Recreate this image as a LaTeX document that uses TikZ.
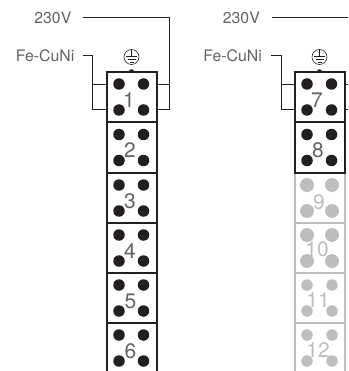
\documentclass[tikz,border=0pt]{standalone}
\usepackage{fontspec}
\setmainfont{TeX Gyre Heros}
\definecolor{ink}{HTML}{231F20}
\definecolor{txt}{HTML}{626366}
\definecolor{pale}{HTML}{BCBEC0}
\tikzset{
  cell/.style={draw=#1,line width=2pt,minimum width=50pt,minimum height=50.5pt,inner sep=0pt,outer sep=0pt,fill=white},
  num/.style={text=#1,font=\fontsize{21}{21}\selectfont,inner sep=0pt},
  pin/.style={fill=ink,draw=none,circle,minimum size=11.5pt,inner sep=0pt},
  palepin/.style={fill=pale,draw=none,circle,minimum size=#1,inner sep=0pt},
  lab/.style={text=txt,font=\fontsize{15.8}{15.8}\selectfont,inner sep=0pt,anchor=east},
  wire/.style={draw=ink,line width=0.7pt},
  earth/.style={draw=ink,line width=0.6pt,circle,minimum size=15pt,inner sep=0pt,fill=white},
  bump/.style={fill=ink,draw=none,circle,minimum size=5.5pt,inner sep=0pt}
}
\begin{document}
\begin{tikzpicture}[x=1pt,y=-1pt]
\useasboundingbox (0,0) rectangle (348,371);
\clip (0,0) rectangle (348,371);
\fill[white] (0,0) rectangle (348,371);
% pale boxes (right column)
\foreach \n/\cy/\pw/\tx/\ty in {12/348/11.5pt/-1.5/2,11/298/11.5pt/-1.5/2,10/248/14pt/-2.5/1,9/198/14pt/-0.5/4}{
  \node[cell=pale] (b\n) at (319.5,\cy) {};
  \foreach \px in {-12.5,12.5}\foreach \py in {-13,13}{
    \node[palepin=\pw] at (319.5+\px,\cy+\py) {};
  }
  \node[num=pale] (t\n) at (319.5+\tx,\cy+\ty) {\n};
}
% black boxes
\node[bump] (k1) at (131.5,72) {};
\node[bump] (k7) at (319.5,72) {};
\foreach \n/\cx/\cy/\tx in {6/131.5/348/-1,5/131.5/298/-1,4/131.5/248/-1.5,3/131.5/198/-1.5,2/131.5/147.5/-1.5,1/131.5/97/-2.5,8/319.5/147.5/-1.5,7/319.5/97/-2.5}{
  \node[cell=ink] (b\n) at (\cx,\cy) {};
  \foreach \px in {-12.5,12}\foreach \py in {-13,13}{
    \node[pin] at (\cx+\px,\cy+\py) {};
  }
  \node[num=txt] (t\n) at (\cx+\tx,\cy+3) {\n};
}
% labels
\node[lab] (vL) at (71.5,18) {230V};
\node[lab] (fL) at (74.5,55.5) {Fe-CuNi};
\node[lab] (vR) at (260,18) {230V};
\node[lab] (fR) at (262,55.5) {Fe-CuNi};
% earth symbols
\foreach \k/\ex in {L/131.5,R/319.5}{
  \node[earth] (e\k) at (\ex,57) {};
  \draw[wire,line width=0.6pt] (\ex,50) -- (\ex,56) (\ex-5.5,56) -- (\ex+5.5,56) (\ex-4,59) -- (\ex+4,59) (\ex-2,62) -- (\ex+2,62);
}
% connection points
\coordinate (a) at (83,17);
\coordinate (b) at (83,55);
\coordinate (c) at (272,17);
\coordinate (d) at (271,55);
\coordinate (r1) at (348,17);
\coordinate (s1) at (348,84);
\coordinate (s2) at (348,109);
% wires
\draw[wire] (a) -- (169,17) -- (169,109) -- (b1.east |- 0,109);
\draw[wire] (169,84) -- (b1.east |- 0,84);
\draw[wire] (b) -- (92,55) -- (92,109) -- (b1.west |- 0,109);
\draw[wire] (92,84) -- (b1.west |- 0,84);
\draw[wire] (c) -- (r1);
\draw[wire] (d) -- (281,55) -- (281,109) -- (b7.west |- 0,109);
\draw[wire] (281,84) -- (b7.west |- 0,84);
\draw[wire] (b7.east |- s1) -- (s1);
\draw[wire] (b7.east |- s2) -- (s2);
\end{tikzpicture}
\end{document}
